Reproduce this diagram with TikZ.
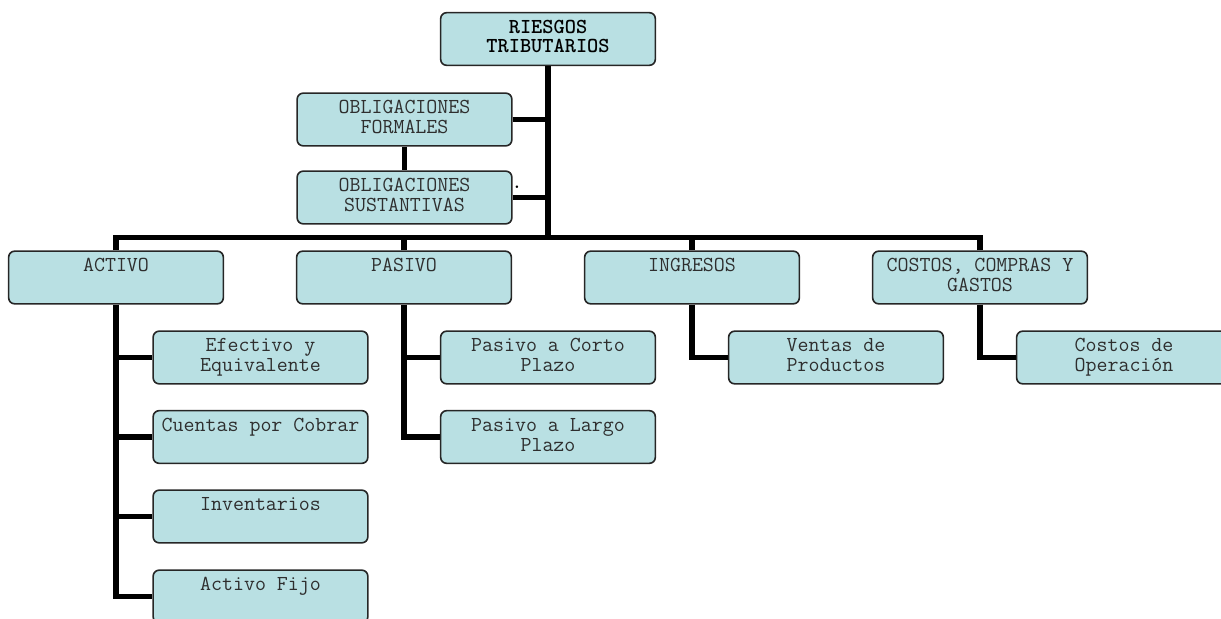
\documentclass[tikz,border=0pt]{standalone}
\usepackage{fontspec}
\definecolor{boxfill}{HTML}{B9E0E3}
\definecolor{boxtext}{HTML}{2E2E2E}
\newcommand{\bxt}[1]{\begin{minipage}[t][39.5pt][t]{161pt}\vspace*{5.5pt}\centering #1\end{minipage}}
\tikzset{
  orgbox/.style={draw=black!85, line width=1.2pt, fill=boxfill, rounded corners=4.5pt,
    inner sep=0pt, text=boxtext, font=\fontsize{16}{15}\selectfont\ttfamily},
  rootbox/.style={orgbox, text=black, font=\fontsize{16}{14.5}\selectfont\ttfamily\bfseries},
  link/.style={draw=black, line width=3.8pt, line join=miter}
}
\begin{document}
\begin{tikzpicture}[x=0.75pt, y=-0.75pt]
\clip (0,0) rectangle (1221,618);
% nodes
\node[rootbox] (root) at (548,39) {\bxt{RIESGOS\\TRIBUTARIOS}};
\node[orgbox] (oblf) at (404.5,119.5) {\bxt{OBLIGACIONES\\FORMALES}};
\node[orgbox] (obls) at (404.5,197.5) {\bxt{OBLIGACIONES\\SUSTANTIVAS}};
\node[font=\fontsize{14}{14}\selectfont\ttfamily\bfseries, inner sep=0pt] (dot) at (517,187) {.};
\node[orgbox] (activo) at (116,277.5) {\bxt{ACTIVO}};
\node[orgbox] (pasivo) at (404,277.5) {\bxt{PASIVO}};
\node[orgbox] (ingresos) at (692,277.5) {\bxt{INGRESOS}};
\node[orgbox] (costos) at (980,277.5) {\bxt{COSTOS, COMPRAS Y\\GASTOS}};
\node[orgbox] (efectivo) at (260.5,357.5) {\bxt{Efectivo y\\Equivalente}};
\node[orgbox] (cuentas) at (260.5,437) {\bxt{Cuentas por Cobrar}};
\node[orgbox] (inventarios) at (260.5,516.5) {\bxt{Inventarios}};
\node[orgbox] (fijo) at (260.5,596.5) {\bxt{Activo Fijo}};
\node[orgbox] (corto) at (548,357.5) {\bxt{Pasivo a Corto\\Plazo}};
\node[orgbox] (largo) at (548,437) {\bxt{Pasivo a Largo\\Plazo}};
\node[orgbox] (ventas) at (836,357.5) {\bxt{Ventas de\\Productos}};
\node[orgbox] (operacion) at (1124,357.5) {\bxt{Costos de\\Operación}};
\coordinate (j) at (548,237.5);
% connectors
\draw[link] (root.south) -- (j);
\draw[link] (oblf.east) -- (oblf.east -| root.south);
\draw[link] (obls.east) -- (obls.east -| root.south);
\draw[link] (oblf.south) -- (obls.north);
\draw[link] (activo.north) |- (j);
\draw[link] (costos.north) |- (j);
\draw[link] (pasivo.north) -- (pasivo.north |- j);
\draw[link] (ingresos.north) -- (ingresos.north |- j);
\draw[link] (activo.south) |- (fijo.west);
\draw[link] (activo.south |- efectivo.west) -- (efectivo.west);
\draw[link] (activo.south |- cuentas.west) -- (cuentas.west);
\draw[link] (activo.south |- inventarios.west) -- (inventarios.west);
\draw[link] (pasivo.south) |- (largo.west);
\draw[link] (pasivo.south |- corto.west) -- (corto.west);
\draw[link] (ingresos.south) |- (ventas.west);
\draw[link] (costos.south) |- (operacion.west);
\end{tikzpicture}
\end{document}
